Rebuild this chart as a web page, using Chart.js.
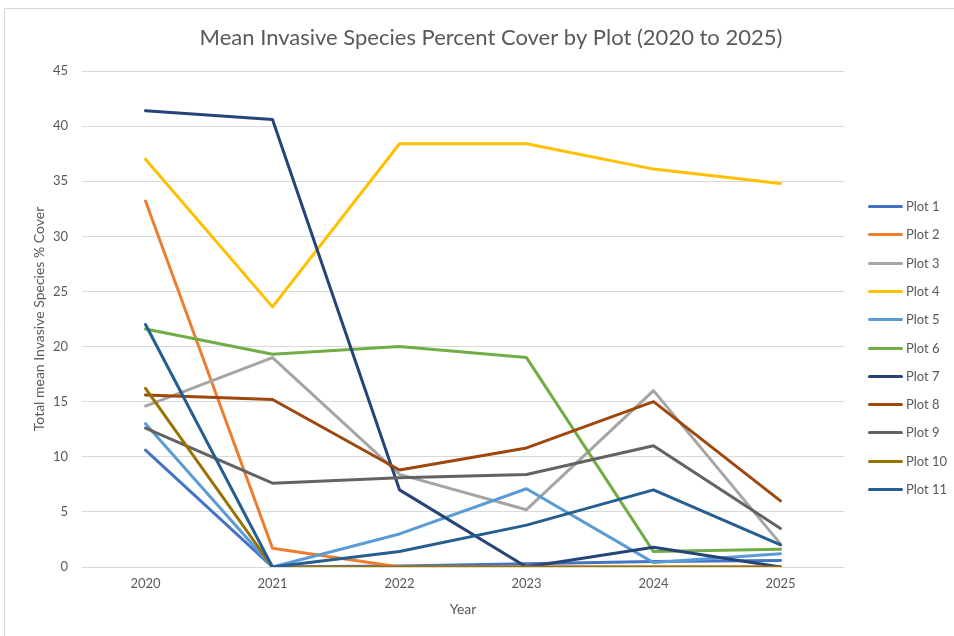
<!DOCTYPE html>
<html>
<head>
<meta charset="utf-8">
<script src="https://cdn.jsdelivr.net/npm/chart.js@4/dist/chart.umd.min.js"></script>
<style>
  html, body { margin: 0; padding: 0; background: #ffffff; }
  #wrap { width: 954px; height: 636px; position: relative; }
</style>
</head>
<body>
<div id="wrap"><canvas id="chart" width="954" height="636"></canvas></div>
<script>
// Survey years
const years = ['2020', '2021', '2022', '2023', '2024', '2025'];

// Mean invasive species percent cover per plot, one value per year
const plot1  = [10.6, 0,    0.1,  0.3,  0.5,  0.6];
const plot2  = [33.2, 1.7,  0,    0,    0,    0];
const plot3  = [14.6, 19.0, 8.4,  5.2,  16.0, 2.1];
const plot4  = [37.0, 23.6, 38.4, 38.4, 36.1, 34.8];
const plot5  = [13.0, 0,    3.0,  7.1,  0.4,  1.2];
const plot6  = [21.6, 19.3, 20.0, 19.0, 1.4,  1.6];
const plot7  = [41.4, 40.6, 7.0,  0,    1.8,  0];
const plot8  = [15.6, 15.2, 8.8,  10.8, 15.0, 6.0];
const plot9  = [12.6, 7.6,  8.1,  8.4,  11.0, 3.5];
const plot10 = [16.2, 0,    0,    0,    0,    0];
const plot11 = [22.0, 0,    1.4,  3.8,  7.0,  2.0];

const seriesNames = ['Plot 1', 'Plot 2', 'Plot 3', 'Plot 4', 'Plot 5', 'Plot 6',
                     'Plot 7', 'Plot 8', 'Plot 9', 'Plot 10', 'Plot 11'];
const seriesValues = [plot1, plot2, plot3, plot4, plot5, plot6,
                      plot7, plot8, plot9, plot10, plot11];
const seriesColors = ['#4472C4', '#ED7D31', '#A5A5A5', '#FFC000', '#5B9BD5', '#70AD47',
                      '#264478', '#9E480E', '#636363', '#997300', '#255E91'];

// Y axis range
const yMin = 0, yMax = 45, yStep = 5;

const textColor = '#595959';
const gridColor = '#d9d9d9';
const fontFamily = 'Lato, "Open Sans", sans-serif';

const datasets = seriesNames.map((name, i) => ({
  label: name,
  data: seriesValues[i],
  borderColor: seriesColors[i],
  backgroundColor: seriesColors[i],
  borderWidth: 3,
  pointRadius: 0,
  pointHoverRadius: 0,
  tension: 0,
  fill: false,
  borderJoinStyle: 'round',
  borderCapStyle: 'round',
  yAxisID: 'y',
  // later series sit on top of earlier ones
  order: seriesNames.length - i
}));

// White background plus the thin outer frame of the chart
const frame = {
  id: 'frame',
  beforeDraw(chart) {
    const ctx = chart.ctx;
    ctx.save();
    ctx.fillStyle = '#ffffff';
    ctx.fillRect(0, 0, chart.width, chart.height);
    ctx.strokeStyle = gridColor;
    ctx.lineWidth = 1;
    ctx.beginPath();
    ctx.moveTo(4.5, chart.height + 2);
    ctx.lineTo(4.5, 8.5);
    ctx.lineTo(chart.width + 2, 8.5);
    ctx.stroke();
    ctx.restore();
  }
};

// Legend column to the right of the plot area: a short line swatch and the series name
const sideLegend = {
  id: 'sideLegend',
  afterDraw(chart) {
    const {ctx, chartArea} = chart;
    const x0 = chartArea.right + 24;
    const swatch = 35;
    const y0 = chartArea.top + 135;
    const step = 28.3;
    ctx.save();
    ctx.font = '13px ' + fontFamily;
    ctx.textBaseline = 'middle';
    ctx.textAlign = 'left';
    chart.data.datasets.forEach((ds, i) => {
      const y = Math.round(y0 + i * step) + 0.5;
      ctx.strokeStyle = ds.borderColor;
      ctx.lineWidth = 3;
      ctx.lineCap = 'round';
      ctx.beginPath();
      ctx.moveTo(x0 + 1.5, y);
      ctx.lineTo(x0 + swatch - 1.5, y);
      ctx.stroke();
      ctx.fillStyle = textColor;
      ctx.fillText(ds.label, x0 + swatch + 3, y);
    });
    ctx.restore();
  }
};

new Chart(document.getElementById('chart'), {
  type: 'line',
  data: { labels: years, datasets },
  options: {
    responsive: false,
    animation: false,
    devicePixelRatio: 1,
    layout: { padding: { top: 10, left: 31, right: 3, bottom: 18 } },
    plugins: {
      title: {
        display: true,
        text: 'Mean Invasive Species Percent Cover by Plot (2020 to 2025)',
        color: textColor,
        font: { family: fontFamily, size: 22, weight: 'normal' },
        padding: { top: 15, bottom: 19.6 }
      },
      legend: { display: false },
      tooltip: { enabled: false }
    },
    scales: {
      x: {
        offset: true,
        grid: { display: false, drawTicks: false },
        border: { display: false },
        ticks: { color: textColor, font: { family: fontFamily, size: 13 }, padding: 9 },
        title: {
          display: true,
          text: 'Year',
          color: textColor,
          font: { family: fontFamily, size: 14 },
          padding: { top: 0, bottom: 0 }
        },
        afterFit(scale) { scale.height = 51; }
      },
      y: {
        min: yMin,
        max: yMax,
        grid: { color: gridColor, lineWidth: 1, drawTicks: false },
        border: { display: false },
        ticks: { stepSize: yStep, color: textColor, font: { family: fontFamily, size: 13 }, padding: 14 },
        title: {
          display: true,
          text: 'Total mean Invasive Species % Cover',
          color: textColor,
          font: { family: fontFamily, size: 14 },
          padding: { top: 0, bottom: 0 }
        },
        afterFit(scale) { scale.width = 51; }
      },
      // empty right-hand band that leaves room for the legend column
      legendSpace: {
        type: 'linear',
        position: 'right',
        display: true,
        grid: { display: false, drawTicks: false },
        border: { display: false },
        ticks: { display: false },
        afterFit(scale) { scale.width = 107; }
      }
    }
  },
  plugins: [frame, sideLegend]
});
</script>
</body>
</html>
